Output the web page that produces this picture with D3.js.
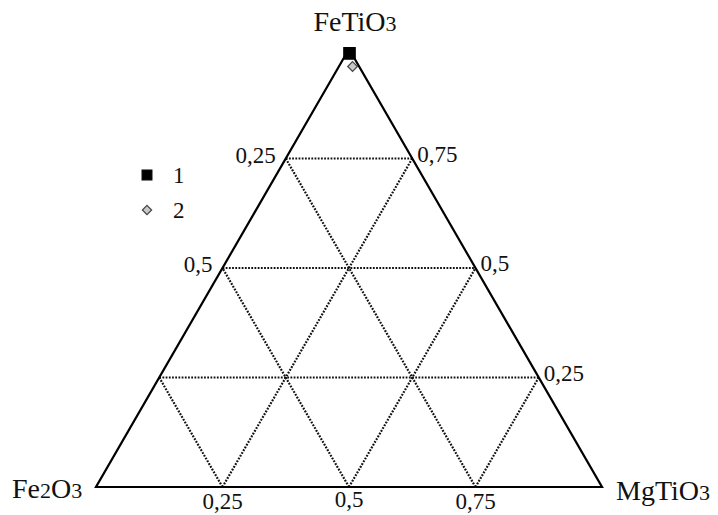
<!DOCTYPE html>
<html>
<head>
<meta charset="utf-8">
<script src="https://cdn.jsdelivr.net/npm/d3@7"></script>
<style>
  body { margin: 0; background: #fff; }
  text { font-family: "Liberation Serif", "DejaVu Serif", serif; fill: #111; }
</style>
</head>
<body>
<div id="chart"></div>
<script>
// corner components (top, left, right)
const components = ["FeTiO3", "Fe2O3", "MgTiO3"]
// samples: fractions of FeTiO3, Fe2O3, MgTiO3
const series = ["1", "2"]
const feTiO3 = [0.99, 0.96]
const fe2O3 = [0.004, 0.013]
const mgTiO3 = [0.006, 0.027]
// grid levels and tick labels on each side
const gridLevels = [0.25, 0.5, 0.75]
const leftTicks = [0.25, 0.5]
const rightTicks = [0.75, 0.5, 0.25]
const bottomTicks = [0.25, 0.5, 0.75]

const outerWidth = 718, outerHeight = 515

// x is along the base (MgTiO3 + FeTiO3/2), y is height (FeTiO3)
const xScale = d3.scaleLinear().domain([0, 1]).range([96, 602])
const yScale = d3.scaleLinear().domain([0, 1]).range([487, 49])

const px = (a, b, c) => xScale(c + a / 2)
const py = (a, b, c) => yScale(a)

const fmt = d3.formatLocale({ decimal: ",", thousands: " ", grouping: [3], currency: ["", ""] }).format("")

const svg = d3.select("#chart")
  .append("svg")
  .attr("width", outerWidth)
  .attr("height", outerHeight)

//dotted grid lines, three families
const grid = []
gridLevels.forEach(k => {
  grid.push([[k, 1 - k, 0], [k, 0, 1 - k]])   // FeTiO3 = k
  grid.push([[0, 1 - k, k], [1 - k, 0, k]])   // MgTiO3 = k
  grid.push([[0, k, 1 - k], [1 - k, k, 0]])   // Fe2O3 = k
})
svg.append("g")
  .selectAll("line")
  .data(grid)
  .enter()
  .append("line")
  .attr("x1", d => px(...d[0]))
  .attr("y1", d => py(...d[0]))
  .attr("x2", d => px(...d[1]))
  .attr("y2", d => py(...d[1]))
  .attr("stroke", "#111")
  .attr("stroke-width", 2.2)
  .attr("stroke-dasharray", "1.8,1.4")

//outer triangle
const corners = [[1, 0, 0], [0, 1, 0], [0, 0, 1]]
svg.append("polygon")
  .attr("points", corners.map(d => px(...d) + "," + py(...d)).join(" "))
  .attr("fill", "none")
  .attr("stroke", "#000")
  .attr("stroke-width", 2.2)
  .attr("stroke-linejoin", "miter")

//tick labels
const tickFont = 23
svg.append("g").selectAll("text")
  .data(leftTicks).enter().append("text")
  .attr("x", d => px(1 - d, d, 0) - 10)
  .attr("y", d => py(1 - d, d, 0) + 4)
  .attr("text-anchor", "end")
  .attr("font-size", tickFont)
  .text(d => fmt(d))

svg.append("g").selectAll("text")
  .data(rightTicks).enter().append("text")
  .attr("x", d => px(d, 0, 1 - d) + 5)
  .attr("y", d => py(d, 0, 1 - d) + 3)
  .attr("text-anchor", "start")
  .attr("font-size", tickFont)
  .text(d => fmt(d))

svg.append("g").selectAll("text")
  .data(bottomTicks).enter().append("text")
  .attr("x", d => px(0, 1 - d, d))
  .attr("y", d => py(0, 1 - d, d) + (d === 0.5 ? 20 : 22))
  .attr("text-anchor", "middle")
  .attr("font-size", tickFont)
  .text(d => fmt(d))

//corner labels with subscripts
const labelPos = [
  { x: 355, y: 31, anchor: "middle" },
  { x: 12, y: 498, anchor: "start" },
  { x: 616, y: 500, anchor: "start" }
]
components.forEach((name, i) => {
  const t = svg.append("text")
    .attr("x", labelPos[i].x)
    .attr("y", labelPos[i].y)
    .attr("text-anchor", labelPos[i].anchor)
    .attr("font-size", 28)
  name.split(/(\d)/).filter(s => s).forEach(s => {
    t.append("tspan")
      .attr("font-size", /\d/.test(s) ? 22 : 28)
      .text(s)
  })
})

//sample points
const points = series.map((s, i) => ({ s: s, a: feTiO3[i], b: fe2O3[i], c: mgTiO3[i] }))
const symbol = {
  "1": { type: d3.symbolSquare, size: 130, fill: "#000", stroke: "#000" },
  "2": { type: d3.symbolDiamond2, size: 60, fill: "#c8c8c8", stroke: "#444" }
}
svg.append("g").selectAll("path")
  .data(points).enter().append("path")
  .attr("transform", d => "translate(" + px(d.a, d.b, d.c) + "," + py(d.a, d.b, d.c) + ")")
  .attr("d", d => d3.symbol().type(symbol[d.s].type).size(symbol[d.s].size)())
  .attr("fill", d => symbol[d.s].fill)
  .attr("stroke", d => symbol[d.s].stroke)
  .attr("stroke-width", 1.2)

//legend
const legend = svg.append("g").attr("transform", "translate(147,175)")
series.forEach((s, i) => {
  const g = legend.append("g").attr("transform", "translate(0," + i * 35 + ")")
  g.append("path")
    .attr("d", d3.symbol().type(symbol[s].type).size(s === "1" ? 95 : 55)())
    .attr("fill", symbol[s].fill)
    .attr("stroke", symbol[s].stroke)
    .attr("stroke-width", 1.2)
  g.append("text")
    .attr("x", 26)
    .attr("y", 8)
    .attr("font-size", tickFont)
    .text(s)
})
</script>
</body>
</html>
